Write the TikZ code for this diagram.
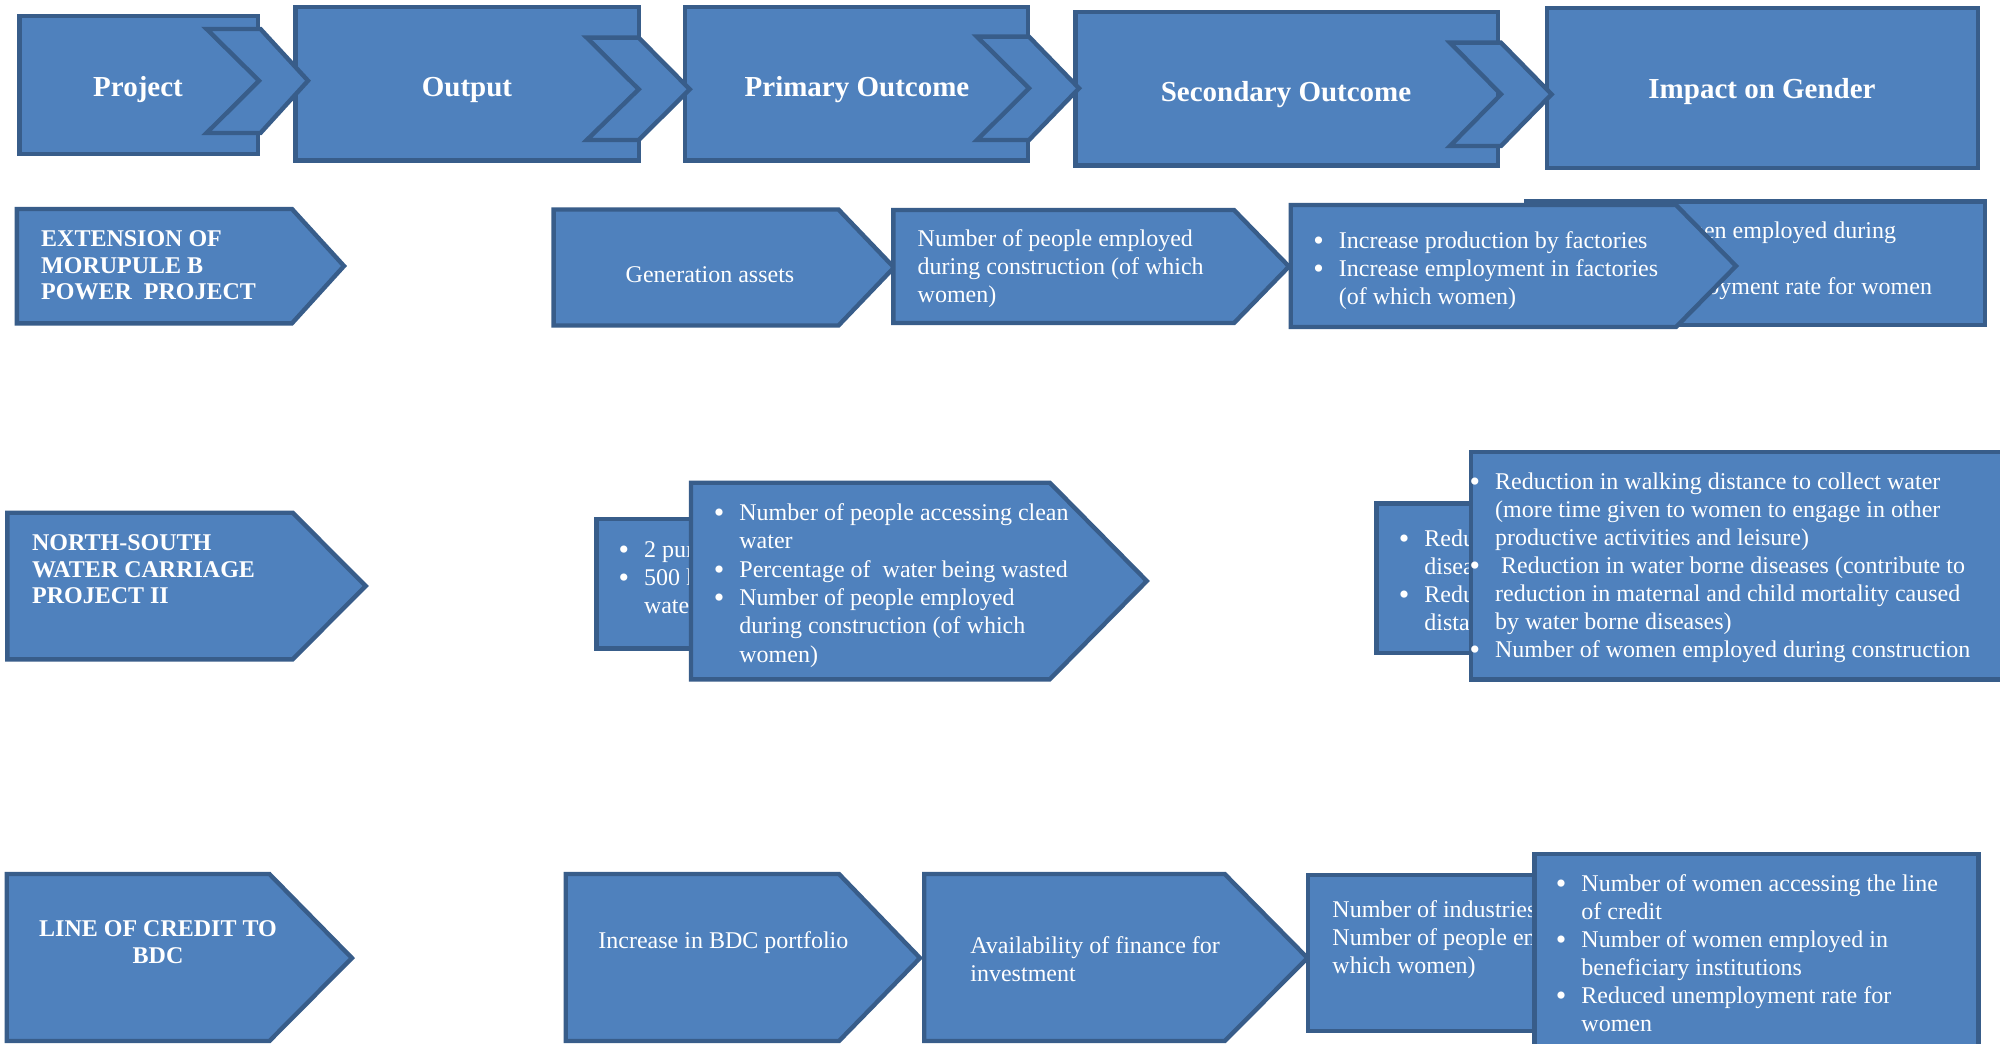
\documentclass[tikz,border=0pt]{standalone}
\usepackage{fontspec}
\setmainfont{Liberation Serif}
\definecolor{boxfill}{HTML}{4F81BD}
\definecolor{boxline}{HTML}{385D8A}
\newcommand\bu{\llap{\raisebox{-1pt}{\fontsize{15}{15}\selectfont\textbullet}\hspace{7.5pt}}}
\tikzset{
  shp/.style={fill=boxfill, draw=boxline, line width=2.2pt},
  txt/.style={text=white, inner sep=0pt, align=left, anchor=north west, font=\fontsize{12}{14}\selectfont},
  lbl/.style={text=white, inner sep=0pt, align=left, anchor=north west, font=\bfseries\fontsize{12}{13.4}\selectfont},
  hdr/.style={text=white, inner sep=0pt, font=\bfseries\fontsize{14.5}{17}\selectfont},
}
\begin{document}
\begin{tikzpicture}[x=0.5pt,y=-0.5pt]
\useasboundingbox (0,0) rectangle (2000,1043);
\clip (0,0) rectangle (2000,1043);
\fill[white] (0,0) rectangle (2000,1043);

% ---------------- header ----------------
\draw[shp] (19.6,16) rectangle (257.7,154);
\draw[shp] (295.5,7.3) rectangle (638.7,160.7);
\draw[shp] (684.9,7.3) rectangle (1028,160.7);
\draw[shp] (1075.4,12.3) rectangle (1498,165.7);
\draw[shp] (1546.8,8.3) rectangle (1978,168);
\draw[shp] (206.6,29) -- (260.5,29) -- (308,80.7) -- (260.5,133) -- (206.6,133) -- (259,80.7) -- cycle;
\draw[shp] (586.8,37.7) -- (638.7,37.7) -- (689.8,89.3) -- (638.7,140) -- (586.8,140) -- (638.7,89.3) -- cycle;
\draw[shp] (977,36.7) -- (1029,36.7) -- (1079,88.3) -- (1029,140) -- (977,140) -- (1029,88.3) -- cycle;
\draw[shp] (1450,42.7) -- (1501,42.7) -- (1551.6,94.3) -- (1501,146) -- (1450,146) -- (1501,94.3) -- cycle;
\node[hdr] (hproj) at (138,90) {Project};
\node[hdr] (hout) at (467,90) {Output};
\node[hdr] (hprim) at (857,90) {Primary Outcome};
\node[hdr] (hsec) at (1286,95) {Secondary Outcome};
\node[hdr] (himp) at (1762,92) {Impact on Gender};

% ---------------- row 1 ----------------
\draw[shp] (16.8,209) -- (292,209) -- (344,266) -- (292,323.3) -- (16.8,323.3) -- cycle;
\node[lbl] (l1) at (40.8,230) {EXTENSION OF\\MORUPULE B\\POWER\ \ PROJECT};
\draw[shp] (553.6,209.5) -- (838.5,209.5) -- (894,267.5) -- (838.5,325.5) -- (553.6,325.5) -- cycle;
\node[txt, anchor=center] (o1) at (710,275) {Generation assets};
\draw[shp] (893.3,210) -- (1234,210) -- (1289,266.5) -- (1234,323) -- (893.3,323) -- cycle;
\node[txt] (p1) at (917.3,229) {Number of people employed\\during construction (of which\\women)};
\draw[shp] (1526.6,201.7) rectangle (1985,325);
\node[txt] (i1) at (1545,221) {Number of women employed during\\construction\\Reduced unemployment rate for women};
\draw[shp] (1290.7,205) -- (1676,205) -- (1736,266) -- (1676,327) -- (1290.7,327) -- cycle;
\node[txt] (s1) at (1338.5,231) {\bu Increase production by factories\\\bu Increase employment in factories\\(of which women)};

% ---------------- row 2 ----------------
\draw[shp] (7.3,512.7) -- (292.7,512.7) -- (365.7,586) -- (292.7,659.3) -- (7.3,659.3) -- cycle;
\node[lbl] (l2) at (31.7,534) {NORTH-SOUTH\\WATER CARRIAGE\\PROJECT II};
\draw[shp] (596.6,519) rectangle (1000,648.3);
\node[txt] (o2) at (643.6,541) {\bu 2 pumping stations\\\bu 500 km of\\water pipeline};
\draw[shp] (691,482.7) -- (1049.8,482.7) -- (1146.8,581) -- (1049.8,679.3) -- (691,679.3) -- cycle;
\node[txt, font=\fontsize{12}{14.15}\selectfont] (p2) at (739,503.2) {\bu Number of people accessing clean\\water\\\bu Percentage of\ \ water being wasted\\\bu Number of people employed\\during construction (of which\\women)};
\draw[shp] (1376.3,503.3) rectangle (1700,652.7);
\node[txt] (s2) at (1424,529) {\bu Reduction in water borne\\diseases\\\bu Reduction in walking\\distance};
\draw[shp] (1471,451.7) rectangle (2030,679.3);
\node[txt] (i2) at (1494.7,472.7) {\bu Reduction in walking distance to collect water\\(more time given to women to engage in other\\productive activities and leisure)\\\bu\ Reduction in water borne diseases (contribute to\\reduction in maternal and child mortality caused\\by water borne diseases)\\\bu Number of women employed during construction};

% ---------------- row 3 ----------------
\draw[shp] (6.7,874) -- (269.4,874) -- (351.9,958) -- (269.4,1041) -- (6.7,1041) -- cycle;
\node[lbl, align=center, anchor=north] (l3) at (158,920.3) {LINE OF CREDIT TO\\BDC};
\draw[shp] (565.7,874) -- (839,874) -- (920,958) -- (839,1041) -- (565.7,1041) -- cycle;
\node[txt] (o3) at (598,931) {Increase in BDC portfolio};
\draw[shp] (924.2,874) -- (1224.7,874) -- (1307.5,958) -- (1224.7,1041) -- (924.2,1041) -- cycle;
\node[txt] (p3) at (970,936) {Availability of finance for\\investment};
\draw[shp] (1308,875) rectangle (1700,1031);
\node[txt] (s3) at (1332,900) {Number of industries funded\\Number of people employed (of\\which women)};
\draw[shp] (1534.4,854) rectangle (1978.6,1070);
\node[txt] (i3) at (1581,874.3) {\bu Number of women accessing the line\\of credit\\\bu Number of women employed in\\beneficiary institutions\\\bu Reduced unemployment rate for\\women};
\end{tikzpicture}
\end{document}
